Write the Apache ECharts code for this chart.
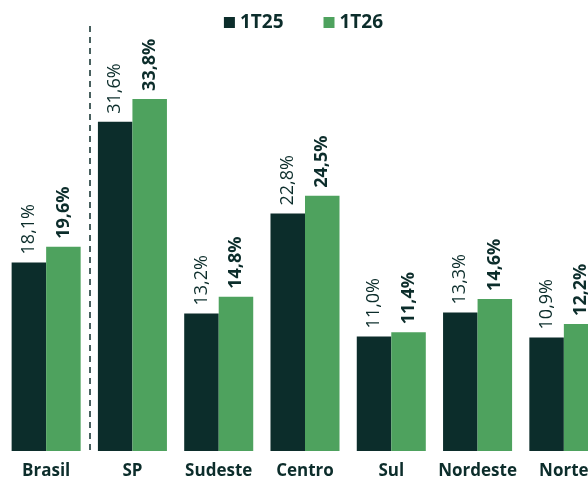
<!DOCTYPE html>
<html>
<head>
<meta charset="utf-8">
<script src="https://cdn.jsdelivr.net/npm/echarts@6/dist/echarts.min.js"></script>
<style>
  html, body { margin: 0; padding: 0; background: #fff; overflow: hidden; }
  /* the chart is wider than the window: Norte is cut off on the right */
  #chart { width: 607px; height: 481px; }
</style>
</head>
<body>
<div id="chart"></div>
<script>
// regioes
const categories = ["Brasil", "SP", "Sudeste", "Centro", "Sul", "Nordeste", "Norte"];
const values1T25 = [18.1, 31.6, 13.2, 22.8, 11.0, 13.3, 10.9];
const values1T26 = [19.6, 33.8, 14.8, 24.5, 11.4, 14.6, 12.2];

const darkGreen = "#0c2d2b";
const lightGreen = "#4ea25e";
const fontFamily = "'Open Sans', sans-serif";

// 18.1 -> 18,1%
const fmt = function(p) {
  return p.value.toFixed(1).replace(".", ",") + "%";
};

const chart = echarts.init(document.getElementById("chart"));

const barLabel = function(weight) {
  return {
    show: true,
    position: "top",
    rotate: 90,
    align: "left",
    verticalAlign: "middle",
    distance: 8,
    formatter: fmt,
    color: darkGreen,
    fontSize: 18,
    fontWeight: weight,
    fontFamily: fontFamily
  };
};

chart.setOption({
  animation: false,
  textStyle: { fontFamily: fontFamily },
  legend: {
    top: 8,
    left: "center",
    itemWidth: 11,
    itemHeight: 11,
    itemGap: 40,
    icon: "rect",
    textStyle: { color: darkGreen, fontWeight: "bold", fontSize: 19, fontFamily: fontFamily },
    data: ["1T25", "1T26"]
  },
  grid: {
    left: 3,
    right: 0,
    top: 26,
    bottom: 30
  },
  xAxis: {
    type: "category",
    data: categories,
    axisLine: { show: false },
    axisTick: { show: false },
    // so a linha tracejada entre Brasil e SP
    splitLine: {
      show: true,
      interval: function(index) { return index <= 1; },
      showMinLine: false,
      showMaxLine: false,
      lineStyle: { color: darkGreen, type: [6, 5], width: 1.5 }
    },
    axisLabel: {
      interval: 0,
      color: darkGreen,
      fontWeight: "bold",
      fontSize: 17,
      margin: 12,
      fontFamily: fontFamily
    }
  },
  yAxis: {
    type: "value",
    min: 0,
    max: 40.8,
    show: false,
    splitLine: { show: false }
  },
  series: [
    {
      name: "1T25",
      type: "bar",
      data: values1T25,
      barGap: "0%",
      barCategoryGap: "20%",
      itemStyle: { color: darkGreen },
      label: barLabel("normal")
    },
    {
      name: "1T26",
      type: "bar",
      data: values1T26,
      itemStyle: { color: lightGreen },
      label: barLabel("bold")
    }
  ]
});
</script>
</body>
</html>
